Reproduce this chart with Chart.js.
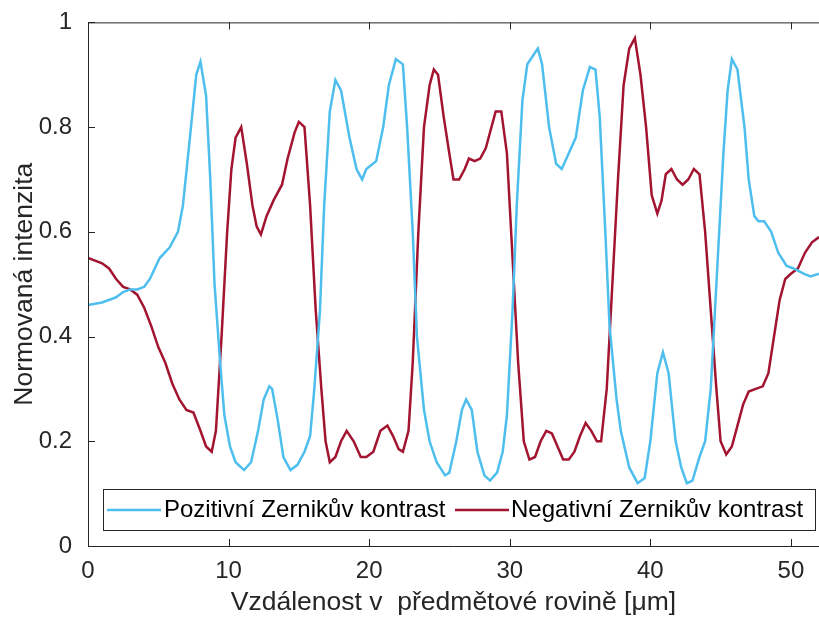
<!DOCTYPE html>
<html>
<head>
<meta charset="utf-8">
<script src="https://cdn.jsdelivr.net/npm/chart.js@4/dist/chart.umd.min.js"></script>
<style>
  html, body { margin: 0; padding: 0; background: #fff; }
  #wrap { width: 819px; height: 619px; position: relative; }
</style>
</head>
<body>
<div id="wrap"><canvas id="chart" width="819" height="619"></canvas></div>
<script>
// tick labels
const xTicks = [0, 10, 20, 30, 40, 50];
const yTicks = [0, 0.2, 0.4, 0.6, 0.8, 1];

// Pozitivni Zernikuv kontrast
const xPoz = [0, 1, 2, 2.5, 3, 3.5, 4, 4.4, 5.1, 5.8, 6.4, 6.75, 7.25, 7.7, 8.0, 8.4, 8.7, 9.0, 9.4, 9.7,
  10.1, 10.5, 11.1, 11.6, 12.1, 12.5, 12.9, 13.1, 13.5, 13.9, 14.4, 14.9, 15.4, 15.8, 16.1, 16.5, 16.8, 17.2, 17.6, 18.0,
  18.6, 19.1, 19.5, 19.8, 20.5, 21.0, 21.4, 21.9, 22.4, 22.7, 23.1, 23.4, 23.9, 24.3, 24.8, 25.4, 25.7, 26.2, 26.6, 26.9,
  27.3, 27.7, 28.2, 28.6, 29.1, 29.5, 29.8, 30.2, 30.5, 30.9, 31.25, 32.0, 32.3, 32.8, 33.3, 33.7, 34.2, 34.7, 35.2, 35.7,
  36.1, 36.4, 36.8, 37.1, 37.6, 37.9, 38.5, 39.1, 39.6, 40.0, 40.5, 40.9, 41.3, 41.8, 42.2, 42.6, 43.0, 43.5, 43.9, 44.3,
  44.7, 45.2, 45.5, 45.8, 46.2, 46.7, 47.0, 47.4, 47.7, 48.1, 48.6, 49.1, 49.7, 50.2, 50.9, 51.4, 52];
const yPoz = [0.46, 0.465, 0.475, 0.485, 0.49, 0.49, 0.495, 0.51, 0.55, 0.57, 0.6, 0.65, 0.78, 0.9, 0.925, 0.86, 0.7, 0.5, 0.35, 0.25,
  0.19, 0.16, 0.145, 0.16, 0.22, 0.28, 0.305, 0.3, 0.24, 0.17, 0.145, 0.155, 0.18, 0.21, 0.3, 0.45, 0.65, 0.83, 0.89, 0.87,
  0.78, 0.72, 0.7, 0.72, 0.735, 0.8, 0.88, 0.93, 0.92, 0.8, 0.6, 0.4, 0.26, 0.2, 0.16, 0.135, 0.14, 0.2, 0.26, 0.28,
  0.26, 0.18, 0.135, 0.125, 0.14, 0.18, 0.25, 0.45, 0.65, 0.85, 0.92, 0.95, 0.92, 0.8, 0.73, 0.72, 0.75, 0.78, 0.87, 0.915,
  0.91, 0.82, 0.6, 0.42, 0.28, 0.22, 0.15, 0.12, 0.13, 0.2, 0.33, 0.37, 0.33, 0.2, 0.15, 0.12, 0.125, 0.17, 0.2, 0.3,
  0.5, 0.75, 0.87, 0.93, 0.91, 0.8, 0.7, 0.63, 0.62, 0.62, 0.6, 0.56, 0.535, 0.53, 0.52, 0.515, 0.52];

// Negativni Zernikuv kontrast
const xNeg = [0, 1, 1.5, 2, 2.5, 3, 3.5, 4, 4.5, 5, 5.5, 6, 6.5, 7, 7.5, 8, 8.4, 8.8, 9.1, 9.5,
  9.9, 10.2, 10.5, 10.9, 11.3, 11.7, 12.0, 12.3, 12.7, 13.2, 13.8, 14.2, 14.7, 15.0, 15.4, 15.8, 16.2, 16.6, 16.9, 17.2,
  17.6, 18.0, 18.4, 18.9, 19.4, 19.8, 20.3, 20.8, 21.3, 21.7, 22.1, 22.4, 22.8, 23.1, 23.5, 23.9, 24.3, 24.6, 24.9, 25.3,
  25.7, 26.0, 26.4, 26.8, 27.1, 27.5, 27.9, 28.3, 28.7, 29.0, 29.4, 29.8, 30.2, 30.6, 31.0, 31.4, 31.8, 32.2, 32.6, 33.0,
  33.4, 33.8, 34.2, 34.6, 35.0, 35.4, 35.8, 36.2, 36.5, 36.9, 37.3, 37.7, 38.1, 38.5, 38.9, 39.3, 39.7, 40.1, 40.5, 40.8,
  41.1, 41.5, 41.9, 42.3, 42.7, 43.1, 43.5, 43.9, 44.3, 44.7, 45.0, 45.4, 45.8, 46.2, 46.6, 47.0, 47.5, 48.0, 48.4, 48.8,
  49.2, 49.6, 50.0, 50.5, 51.0, 51.5, 52];
const yNeg = [0.55, 0.54, 0.53, 0.51, 0.495, 0.49, 0.48, 0.455, 0.42, 0.38, 0.35, 0.31, 0.28, 0.26, 0.255, 0.22, 0.19, 0.18, 0.22, 0.4,
  0.6, 0.72, 0.78, 0.8, 0.73, 0.65, 0.61, 0.595, 0.63, 0.66, 0.69, 0.74, 0.79, 0.81, 0.8, 0.65, 0.45, 0.3, 0.2, 0.16,
  0.17, 0.2, 0.22, 0.2, 0.17, 0.17, 0.18, 0.22, 0.23, 0.21, 0.185, 0.18, 0.22, 0.35, 0.6, 0.8, 0.88, 0.91, 0.9, 0.82,
  0.75, 0.7, 0.7, 0.72, 0.74, 0.735, 0.74, 0.76, 0.8, 0.83, 0.83, 0.75, 0.55, 0.35, 0.2, 0.165, 0.17, 0.2, 0.22, 0.215,
  0.19, 0.165, 0.165, 0.18, 0.21, 0.235, 0.22, 0.2, 0.2, 0.3, 0.5, 0.7, 0.88, 0.95, 0.97, 0.9, 0.8, 0.67, 0.635, 0.66,
  0.71, 0.72, 0.7, 0.69, 0.7, 0.72, 0.71, 0.6, 0.45, 0.3, 0.2, 0.175, 0.19, 0.23, 0.27, 0.295, 0.3, 0.305, 0.33, 0.4,
  0.47, 0.51, 0.52, 0.53, 0.56, 0.58, 0.59];

const labels = ['Pozitivní Zernikův kontrast', 'Negativní Zernikův kontrast'];
const colors = ['#4DBEEE', '#A2142F'];
const axisColor = '#262626';
const fontFam = '"Liberation Sans", Arial, sans-serif';

const toPoints = (xs, ys) => xs.map((x, i) => ({ x: x, y: ys[i] }));

// frame + inner ticks (matlab style box) and the legend
const boxPlugin = {
  id: 'box',
  afterDraw(chart) {
    const ctx = chart.ctx;
    const a = chart.chartArea;
    const sx = chart.scales.x, sy = chart.scales.y;
    ctx.save();
    ctx.strokeStyle = axisColor;
    ctx.lineWidth = 1;
    ctx.beginPath();
    ctx.moveTo(a.right, a.top + 0.5); ctx.lineTo(a.left + 0.5, a.top + 0.5);
    ctx.lineTo(a.left + 0.5, a.bottom + 0.5); ctx.lineTo(a.right, a.bottom + 0.5);
    for (const v of xTicks) {
      const px = Math.round(sx.getPixelForValue(v)) + 0.5;
      ctx.moveTo(px, a.bottom); ctx.lineTo(px, a.bottom - 7);
      ctx.moveTo(px, a.top); ctx.lineTo(px, a.top + 7);
    }
    for (const v of yTicks) {
      const py = Math.round(sy.getPixelForValue(v)) + 0.5;
      ctx.moveTo(a.left, py); ctx.lineTo(a.left + 7, py);
    }
    ctx.stroke();

    // legend box
    const lx = 103, ly = 489, lw = 712, lh = 41;
    ctx.fillStyle = '#fff';
    ctx.fillRect(lx, ly, lw, lh);
    ctx.strokeRect(lx + 0.5, ly + 0.5, lw, lh);
    ctx.font = '24px ' + fontFam;
    ctx.textBaseline = 'middle';
    ctx.textAlign = 'left';
    const items = [{ x: 107, tx: 164 }, { x: 455, tx: 511 }];
    items.forEach((it, i) => {
      ctx.strokeStyle = colors[i];
      ctx.lineWidth = 2.5;
      ctx.beginPath();
      ctx.moveTo(it.x, ly + lh / 2 + 0.5);
      ctx.lineTo(it.x + 54, ly + lh / 2 + 0.5);
      ctx.stroke();
      ctx.fillStyle = '#000';
      ctx.fillText(labels[i], it.tx, ly + lh / 2 + 1);
    });
    ctx.restore();
  }
};

new Chart(document.getElementById('chart'), {
  type: 'line',
  data: {
    datasets: [
      { label: labels[0], data: toPoints(xPoz, yPoz), borderColor: colors[0], borderWidth: 2.5, pointRadius: 0, tension: 0, fill: false },
      { label: labels[1], data: toPoints(xNeg, yNeg), borderColor: colors[1], borderWidth: 2.5, pointRadius: 0, tension: 0, fill: false }
    ]
  },
  options: {
    responsive: false,
    animation: false,
    layout: { padding: { top: 22, right: 0, left: 0, bottom: 0 } },
    plugins: { legend: { display: false }, tooltip: { enabled: false } },
    scales: {
      x: {
        type: 'linear', min: 0, max: 52,
        afterBuildTicks: (s) => { s.ticks = xTicks.map(v => ({ value: v })); },
        afterFit: (s) => { s.height = 73; },
        grid: { display: false },
        border: { display: false },
        ticks: { color: axisColor, font: { family: fontFam, size: 24 }, padding: 3, maxRotation: 0 },
        title: { display: true, text: 'Vzdálenost v  předmětové rovině [μm]', color: axisColor, font: { family: fontFam, size: 26.5 }, padding: { top: 0, bottom: 0 } }
      },
      y: {
        type: 'linear', min: 0, max: 1,
        afterBuildTicks: (s) => { s.ticks = yTicks.map(v => ({ value: v })); },
        afterFit: (s) => { s.width = 88; },
        grid: { display: false },
        border: { display: false },
        ticks: { color: axisColor, font: { family: fontFam, size: 24 }, padding: 8, callback: (v) => String(Number(v.toFixed(1))) },
        title: { display: true, text: 'Normovaná intenzita', color: axisColor, font: { family: fontFam, size: 26.5 }, padding: { top: 9, bottom: 0 } }
      }
    }
  },
  plugins: [boxPlugin]
});
</script>
</body>
</html>
